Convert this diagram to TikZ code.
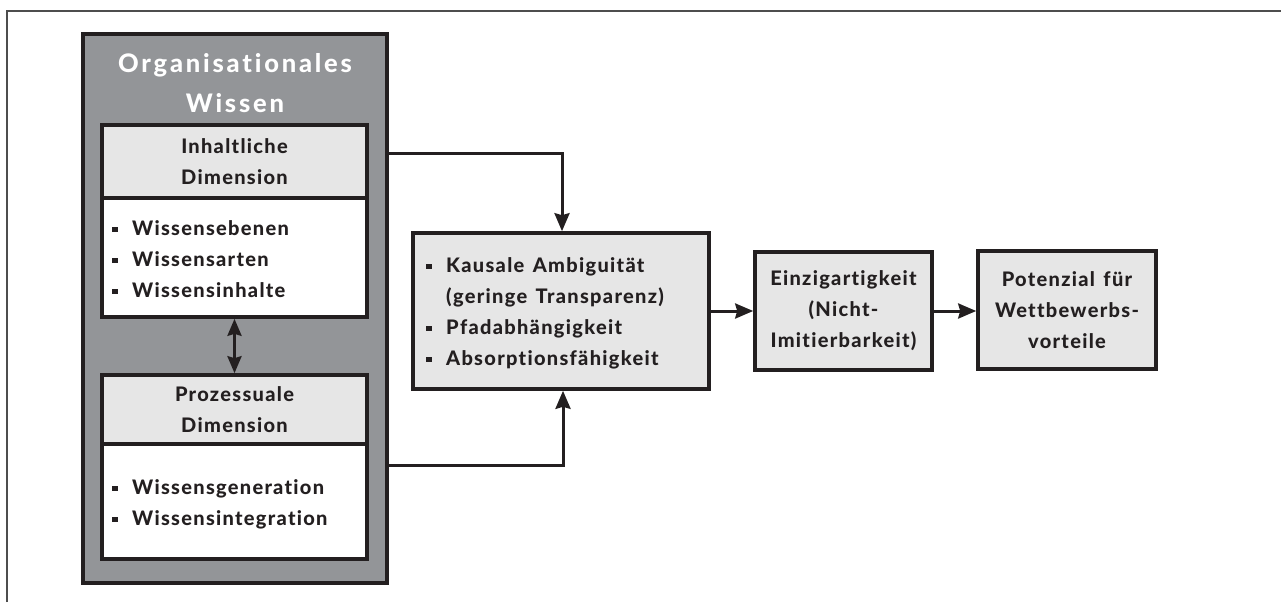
\documentclass[tikz,border=0pt]{standalone}
\usepackage{fontspec}
\setmainfont{Lato}
\newfontfamily\spacedfont{Lato Heavy}[LetterSpace=6.5, WordSpace=1.4, Ligatures=NoCommon]
\newfontfamily\widefont{Lato Heavy}[LetterSpace=11.0, Ligatures=NoCommon]
\usetikzlibrary{arrows.meta}

\definecolor{ink}{HTML}{231F20}
\definecolor{shell}{HTML}{939598}
\definecolor{pale}{HTML}{E6E6E6}
\definecolor{framegray}{HTML}{4D4D4D}

% square bullet followed by a fixed indent
\newcommand\sqbul{\makebox[20pt][l]{\rule[3pt]{5.5pt}{5.5pt}}}
\newcommand\bodyfont{\spacedfont\fontsize{20}{31}\selectfont}
\newcommand\titlefont{\widefont\fontsize{25.5}{40}\selectfont}

\tikzset{
  shellbox/.style={draw=ink, line width=3.6pt, fill=shell, inner sep=0pt},
  headbox/.style={draw=ink, line width=3.6pt, fill=pale, inner sep=0pt, text=ink,
    align=center, font=\bodyfont},
  listbox/.style={draw=ink, line width=3.6pt, fill=white, inner sep=0pt},
  listtext/.style={text=ink, align=left, font=\bodyfont, inner sep=0pt, anchor=west},
  titletext/.style={text=white, align=center, font=\titlefont, inner sep=0pt},
  flow/.style={draw=ink, line width=3pt, -{Stealth[length=18pt,width=15pt,inset=2pt]}},
  flowboth/.style={draw=ink, line width=3pt,
    {Stealth[length=17pt,width=14pt,inset=2pt]}-{Stealth[length=17pt,width=14pt,inset=2pt]}},
}

\begin{document}
\begin{tikzpicture}[x=1pt,y=-1pt]
\useasboundingbox (0,0) rectangle (1281,602);
\fill[white] (0,0) rectangle (1281,602);

% open frame (top and left edges)
\draw[framegray, line width=2pt] (7,602) -- (7,11) -- (1281,11);

% organisational knowledge container
\node[shellbox, minimum width=304pt, minimum height=549pt] (org) at (235,308.5) {};
\node[titletext] (orgtitle) at (235,83) {Organisationales\\Wissen};

% content dimension
\node[headbox, minimum width=265pt, minimum height=73pt] (ihead) at (234.5,161.5)
  {Inhaltliche\\Dimension};
\node[listbox, minimum width=265pt, minimum height=119pt] (ilist) at (234.5,257.5) {};
\node[listtext] (ilisttxt) at (112,259)
  {\sqbul Wissensebenen\\ \sqbul Wissensarten\\ \sqbul Wissensinhalte};

% process dimension
\node[headbox, minimum width=265pt, minimum height=69pt] (phead) at (234.5,409.5)
  {Prozessuale\\Dimension};
\node[listbox, minimum width=265pt, minimum height=115pt] (plist) at (234.5,501.5) {};
\node[listtext] (plisttxt) at (112,504)
  {\sqbul Wissensgeneration\\ \sqbul Wissensintegration};

% mechanisms
\node[headbox, minimum width=296pt, minimum height=156pt] (mid) at (561,311) {};
\node[listtext] (midtxt) at (426,313)
  {\sqbul Kausale Ambiguität\\ \hspace*{20pt}(geringe Transparenz)\\
   \sqbul Pfadabhängigkeit\\ \sqbul Absorptionsfähigkeit};

% outcomes
\node[headbox, minimum width=177pt, minimum height=118pt] (uniq) at (843.5,311)
  {Einzigartigkeit\\(Nicht-\\Imitierbarkeit)};
\node[headbox, minimum width=178pt, minimum height=118pt] (pot) at (1067,310)
  {Potenzial für\\Wettbewerbs-\\vorteile};

% connectors
\coordinate (j1) at (562,153);
\coordinate (j2) at (563,465);
\draw[flowboth] (ilist.south) -- (phead.north);
\draw[flow] (org.east |- j1) -- (j1) -- (mid.north -| j1);
\draw[flow] (org.east |- j2) -- (j2) -- (mid.south -| j2);
\draw[flow] (mid.east) -- (uniq.west);
\draw[flow] (uniq.east) -- (pot.west |- uniq.east);
\end{tikzpicture}
\end{document}
